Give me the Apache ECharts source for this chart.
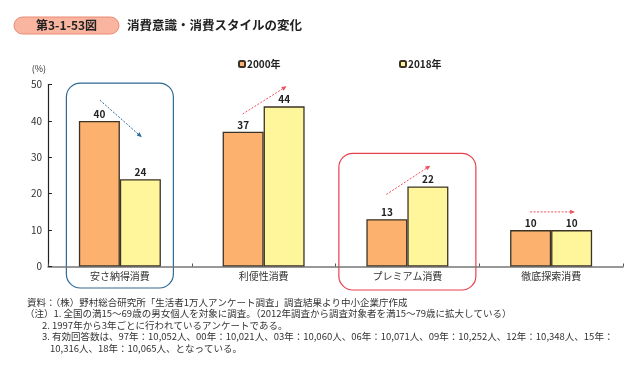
<!DOCTYPE html>
<html><head><meta charset="utf-8">
<script src="https://cdn.jsdelivr.net/npm/echarts@6/dist/echarts.min.js"></script>
<style>html,body{margin:0;padding:0;background:#fff}#c{width:633px;height:379px}</style>
</head><body><div id="c"></div>
<script>
const categories = ['安さ納得消費', '利便性消費', 'プレミアム消費', '徹底探索消費'];
const values2000 = [40, 37, 13, 10];
const values2018 = [24, 44, 22, 10];
const seriesNames = ['2000年', '2018年'];
const yTicks = [0, 10, 20, 30, 40, 50];
const titleBadge = '第3-1-53図';
const titleText = '消費意識・消費スタイルの変化';
const notes = [
  '資料：（株）野村総合研究所「生活者1万人アンケート調査」調査結果より中小企業庁作成',
  '（注）1. 全国の満15～69歳の男女個人を対象に調査。（2012年調査から調査対象者を満15～79歳に拡大している）',
  '2. 1997年から3年ごとに行われているアンケートである。',
  '3. 有効回答数は、97年：10,052人、00年：10,021人、03年：10,060人、06年：10,071人、09年：10,252人、12年：10,348人、15年：',
  '10,316人、18年：10,065人、となっている。'
];

const FONT = '"Noto Sans CJK JP", sans-serif';
const chart = echarts.init(document.getElementById('c'), null, {renderer: 'canvas'});

const option = {
  animation: false,
  textStyle: {fontFamily: FONT},
  grid: {left: 48, right: 10, top: 84.5, bottom: 112.5, containLabel: false},
  legend: [
    {data: [seriesNames[0]], left: 233, top: 54, itemWidth: 6, itemHeight: 6, itemGap: 2,
     textStyle: {fontSize: 10, fontWeight: 'bold', color: '#222', fontFamily: FONT, padding: [0,0,0,-3]}},
    {data: [seriesNames[1]], left: 394, top: 54, itemWidth: 6, itemHeight: 6, itemGap: 2,
     textStyle: {fontSize: 10, fontWeight: 'bold', color: '#222', fontFamily: FONT, padding: [0,0,0,-3]}}
  ],
  xAxis: {
    type: 'category', data: categories,
    axisLine: {lineStyle: {color: '#777', width: 1.5}},
    axisTick: {show: true, inside: true, length: 3, lineStyle: {color: '#555'}},
    axisLabel: {fontSize: 10, color: '#333', margin: 5, fontFamily: FONT}
  },
  yAxis: {
    type: 'value', min: yTicks[0], max: yTicks[yTicks.length-1], interval: 10,
    name: '(%)', nameLocation: 'end', nameGap: 11,
    nameTextStyle: {fontSize: 9, color: '#333', align: 'right', padding: [0, 2, 0, 0]},
    axisLine: {show: true, lineStyle: {color: '#222', width: 1.2}},
    axisTick: {show: true, inside: true, length: 4, lineStyle: {color: '#222'}},
    axisLabel: {fontSize: 10, color: '#333', margin: 6},
    splitLine: {show: false}
  },
  series: [
    {name: seriesNames[0], type: 'bar', data: values2000, barWidth: 41, barGap: '0%',
     itemStyle: {color: '#FDB16E', borderColor: '#3b3326', borderWidth: 1.3},
     label: {show: true, position: 'top', distance: 2, fontSize: 10, fontWeight: 'bold', color: '#222', fontFamily: FONT}},
    {name: seriesNames[1], type: 'bar', data: values2018, barWidth: 41,
     itemStyle: {color: '#FFF59B', borderColor: '#3b3326', borderWidth: 1.3},
     label: {show: true, position: 'top', distance: 2, fontSize: 10, fontWeight: 'bold', color: '#222', fontFamily: FONT}}
  ]
};
chart.setOption(option);

function px(ci, v) { return chart.convertToPixel({gridIndex: 0}, [ci, v]); }

const graphics = [];
graphics.push({type: 'rect', shape: {x: 14, y: 17, width: 105, height: 17, r: 8.5},
  style: {fill: '#F9B5A0', stroke: '#E98A72', lineWidth: 1}});
graphics.push({type: 'text', x: 66.5, y: 25.5, style: {text: titleBadge,
  fill: '#222', align: 'center', verticalAlign: 'middle', font: 'bold 12px ' + FONT}});
graphics.push({type: 'text', x: 127, y: 25.5, style: {text: titleText, fill: '#222',
  verticalAlign: 'middle', font: 'bold 12.5px ' + FONT}});

function box(ci, halfW, topVal, bottomPx, color) {
  const c = px(ci, topVal); const z = px(ci, 0);
  graphics.push({type: 'rect', shape: {x: c[0] - halfW, y: c[1], width: halfW * 2, height: z[1] + bottomPx - c[1], r: 14},
    style: {fill: 'none', stroke: color, lineWidth: 1.2}});
}
box(0, 53.5, 50.4, 21.5, '#2E6A96');
box(2, 68.5, 31.1, 23.5, '#E8404C');

function arrow(ci, dx1, v1, dx2, v2, color) {
  const a = px(ci, v1), b = px(ci, v2);
  const x1 = a[0] + dx1, y1 = a[1], x2 = b[0] + dx2, y2 = b[1];
  const ang = Math.atan2(y2 - y1, x2 - x1), L = 5, W = 2.2;
  const bx = x2 - L * Math.cos(ang), by = y2 - L * Math.sin(ang);
  graphics.push({type: 'line', shape: {x1: x1, y1: y1, x2: bx, y2: by},
    style: {stroke: color, lineWidth: 1, lineDash: [2, 1.5]}});
  graphics.push({type: 'polygon', shape: {points: [[x2, y2],
    [bx + W * Math.sin(ang), by - W * Math.cos(ang)], [bx - W * Math.sin(ang), by + W * Math.cos(ang)]]},
    style: {fill: color}});
}
arrow(0, -20, 45.7, 22, 35.5, '#2E6A96');
arrow(1, -21, 41.9, 23, 49.5, '#F0505A');
arrow(2, -21, 19.8, 23, 27.7, '#F0505A');
arrow(3, -21, 15.0, 24, 15.0, '#F0505A');

const noteX = [27, 25, 42, 42, 50];
const noteY = [302, 313.5, 325, 336.5, 348];
notes.forEach((t, i) => {
  graphics.push({type: 'text', x: noteX[i], y: noteY[i], style: {text: t, fill: '#333',
    verticalAlign: 'middle', font: '9.5px ' + FONT}});
});

chart.setOption({graphic: graphics});
</script></body></html>
